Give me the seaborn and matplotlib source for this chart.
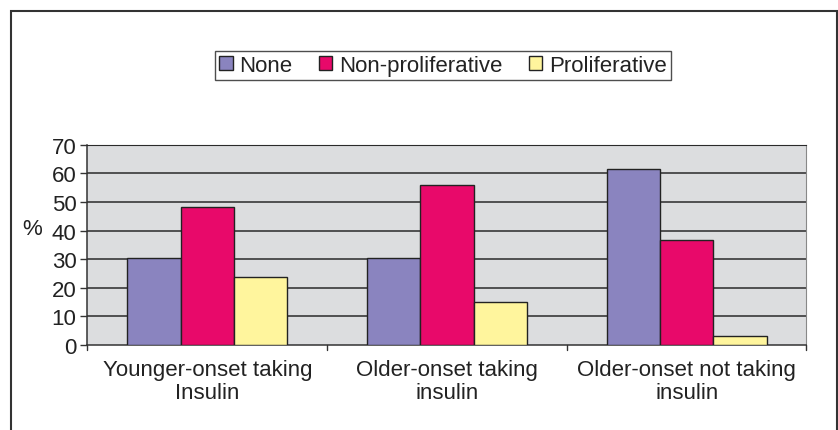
import pandas as pd
import matplotlib
matplotlib.use("Agg")
import matplotlib.pyplot as plt
from matplotlib.patches import Rectangle
import seaborn as sns

groups = ["Younger-onset taking\nInsulin", "Older-onset taking\ninsulin", "Older-onset not taking\ninsulin"]
series = ["None", "Non-proliferative", "Proliferative"]
none_vals = [30.3, 30.3, 61.4]
nonprolif_vals = [48.1, 55.8, 36.8]
prolif_vals = [23.8, 15.0, 3.2]
colors = ["#8A84BF", "#E8096A", "#FFF59D"]

sns.set_style("white")
plt.rcParams["font.family"] = ["Liberation Sans", "DejaVu Sans"]

df = pd.DataFrame({
    "group": groups * 3,
    "retinopathy": [s for s in series for _ in groups],
    "pct": none_vals + nonprolif_vals + prolif_vals,
})

fig = plt.figure(figsize=(8.38, 4.31), dpi=100)
ax = fig.add_axes([0.1044, 0.197, 0.858, 0.465])
ax.set_facecolor("#DCDDDF")

sns.barplot(data=df, x="group", y="pct", hue="retinopathy", hue_order=series,
            palette=colors, width=0.667, edgecolor="#222222", linewidth=1,
            saturation=1, ax=ax, zorder=3)

ax.set_ylim(0, 70)
ax.set_xlim(-0.5, 2.5)
ax.set_yticks(range(0, 71, 10))
for y in range(10, 71, 10):
    ax.axhline(y, color="#2a2a2a", lw=1.1, zorder=1)

ax.tick_params(axis="y", labelsize=16, length=5, width=1, color="#333333", direction="out", left=True, pad=3)
ax.set_xticks([0, 1, 2])
ax.set_xticklabels(groups, fontsize=16, color="#222222", linespacing=1.15)
ax.tick_params(axis="x", length=0, pad=10)
for xb in [-0.5, 0.5, 1.5, 2.5]:
    ax.plot([xb, xb], [0, -1.8], color="#333333", lw=1, clip_on=False, zorder=4)
for lab in ax.get_yticklabels():
    lab.set_color("#222222")

ax.set_xlabel("")
ax.set_ylabel("%", fontsize=16, rotation=0, color="#222222", va="center", ha="center")
ax.yaxis.set_label_coords(-0.077, 0.58)

for side in ["left", "bottom"]:
    ax.spines[side].set_color("#333333")
    ax.spines[side].set_linewidth(1.1)
ax.spines["right"].set_color("#888888")
ax.spines["top"].set_color("#2a2a2a")

ax.legend_.remove()
handles = [Rectangle((0, 0), 1, 1, facecolor=c, edgecolor="#222222", lw=1) for c in colors]
leg = fig.legend(handles, series, loc="center", bbox_to_anchor=(0.5286, 0.8457), ncol=3,
                 fontsize=16, frameon=True, fancybox=False, handlelength=0.6, handleheight=0.6,
                 handletextpad=0.3, columnspacing=1.2, borderpad=0.2, borderaxespad=0)
leg.get_frame().set_edgecolor("#222222")
leg.get_frame().set_linewidth(1)
for t in leg.get_texts():
    t.set_color("#222222")

fig.patches.append(Rectangle((10.5 / 838, -0.02), 826 / 838, 1.02 - 12 / 431,
                             transform=fig.transFigure, fill=False, edgecolor="#333333", lw=1.5))

fig.savefig("out.png", dpi=100)
